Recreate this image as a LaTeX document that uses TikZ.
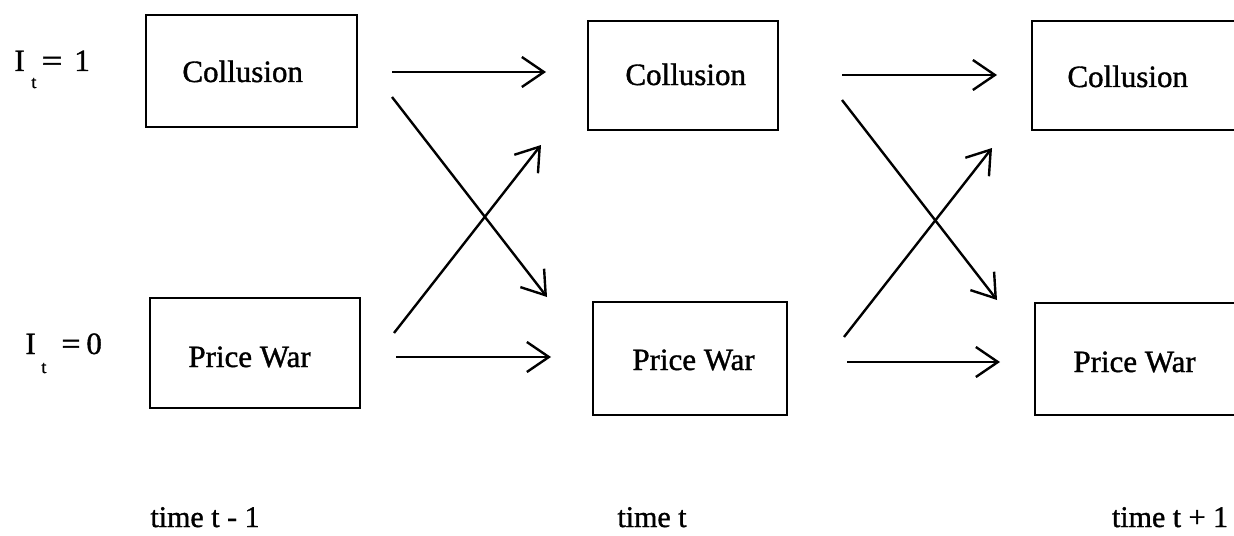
\documentclass[tikz,border=0pt]{standalone}
\usepackage{fontspec}
\setmainfont{Liberation Serif}[FakeBold=1.2]
\usetikzlibrary{arrows.meta}
\tikzset{
  x=0.5pt, y=-0.5pt,
  box/.style={draw, line width=1.2pt, rectangle, inner sep=0pt, outer sep=0pt},
  boxtext/.style={anchor=base west, inner sep=0pt, font=\fontsize{15.5}{18}\selectfont},
  lab/.style={anchor=base west, inner sep=0pt, font=\fontsize{15.5}{18}\selectfont},
  sub/.style={anchor=base west, inner sep=0pt, font=\fontsize{9}{11}\selectfont},
  timelab/.style={anchor=base, inner sep=0pt, font=\fontsize{15}{18}\selectfont},
  arr/.style={line width=1.2pt, -{Straight Barb[length=11pt, width=15pt, line width=1.2pt]}},
}
\begin{document}
\begin{tikzpicture}
\useasboundingbox (0,0) rectangle (1234,535);
\clip (0,0) rectangle (1234,535);
% boxes
\node[box, minimum width=105.5pt, minimum height=56pt] (c1) at (251.5,71) {};
\node[box, minimum width=95pt, minimum height=54.5pt] (c2) at (683,75.5) {};
\node[box, minimum width=109pt, minimum height=54.5pt] (c3) at (1141,75.5) {};
\node[box, minimum width=105pt, minimum height=55pt] (p1) at (255,353) {};
\node[box, minimum width=97pt, minimum height=56.5pt] (p2) at (690,358.5) {};
\node[box, minimum width=107.5pt, minimum height=56pt] (p3) at (1142.5,359) {};
% box texts
\node[boxtext] (c1t) at (182,82) {Collusion};
\node[boxtext] (c2t) at (625,85) {Collusion};
\node[boxtext] (c3t) at (1067,87) {Collusion};
\node[boxtext] (p1t) at (188,367) {Price War};
\node[boxtext] (p2t) at (632,370) {Price War};
\node[boxtext] (p3t) at (1073,372) {Price War};
% state labels
\node[lab] (i1) at (14,71) {I};
\node[sub] (i1s) at (31,88) {t};
\node[lab] (i1e) at (41,71) {\scalebox{1.2}[1]{=}};
\node[lab] (i1v) at (74,71) {1};
\node[lab] (i0) at (25,354) {I};
\node[sub] (i0s) at (41,373) {t};
\node[lab] (i0e) at (61,354) {\scalebox{1.1}[1]{=}};
\node[lab] (i0v) at (86,354) {0};
% time labels
\node[timelab] (tm1) at (205,527) {time t - 1};
\node[timelab] (tm0) at (652,527) {time t};
\node[timelab] (tp1) at (1170,527) {time t + 1};
% arrow end points
\coordinate (a1s) at (392,72);  \coordinate (a1e) at (546,72);
\coordinate (a2s) at (392,97);  \coordinate (a2e) at (547,297);
\coordinate (a3s) at (394,333); \coordinate (a3e) at (541,145);
\coordinate (a4s) at (396,357); \coordinate (a4e) at (551,357);
\coordinate (b1s) at (842,75);  \coordinate (b1e) at (997,75);
\coordinate (b2s) at (842,100); \coordinate (b2e) at (997,300);
\coordinate (b3s) at (844,337); \coordinate (b3e) at (992,148);
\coordinate (b4s) at (847,362); \coordinate (b4e) at (1000,362);
\draw[arr] (a1s) -- (a1e);
\draw[arr] (a2s) -- (a2e);
\draw[arr] (a3s) -- (a3e);
\draw[arr] (a4s) -- (a4e);
\draw[arr] (b1s) -- (b1e);
\draw[arr] (b2s) -- (b2e);
\draw[arr] (b3s) -- (b3e);
\draw[arr] (b4s) -- (b4e);
\end{tikzpicture}
\end{document}
